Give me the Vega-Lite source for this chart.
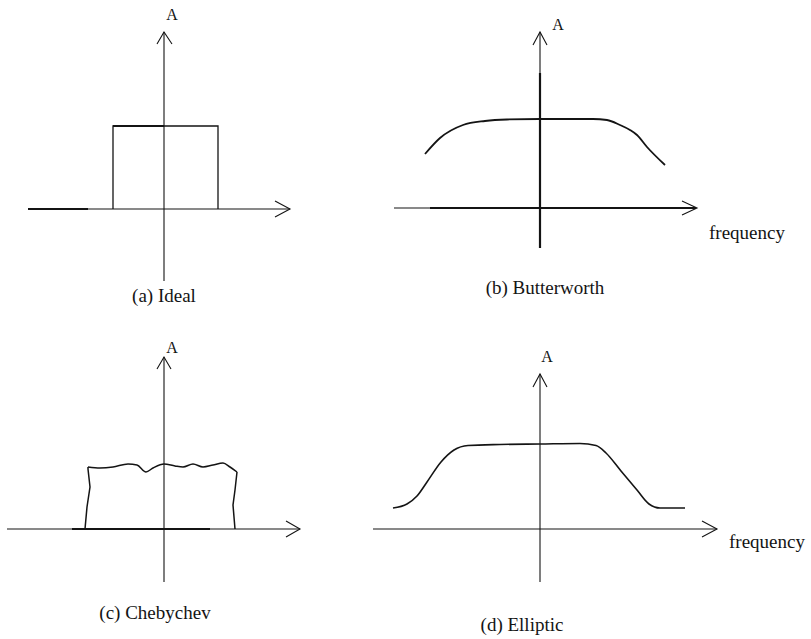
{
  "$schema": "https://vega.github.io/schema/vega-lite/v6.json",
  "padding": 0,
  "spacing": 0,
  "bounds": "flush",
  "columns": 2,
  "background": "white",
  "config": {
    "view": {"stroke": null},
    "line": {"color": "#141414", "strokeCap": "butt"},
    "text": {"font": "Liberation Serif", "color": "#141414"}
  },
  "datasets": {
    "paths": [
      {"panel": "a", "id": "a-h", "kind": "axis", "seq": 1, "f": -13.6, "a": 0},
      {"panel": "a", "id": "a-h", "kind": "axis", "seq": 2, "f": 12.6, "a": 0},
      {"panel": "a", "id": "a-ha", "kind": "axis", "seq": 1, "f": 11.1, "a": 0.8},
      {"panel": "a", "id": "a-ha", "kind": "axis", "seq": 2, "f": 12.6, "a": 0},
      {"panel": "a", "id": "a-ha", "kind": "axis", "seq": 3, "f": 11.1, "a": -0.8},
      {"panel": "a", "id": "a-v", "kind": "axis", "seq": 1, "f": 0, "a": -7.2},
      {"panel": "a", "id": "a-v", "kind": "axis", "seq": 2, "f": 0, "a": 17.7},
      {"panel": "a", "id": "a-va", "kind": "axis", "seq": 1, "f": -0.7, "a": 16.5},
      {"panel": "a", "id": "a-va", "kind": "axis", "seq": 2, "f": 0, "a": 17.7},
      {"panel": "a", "id": "a-va", "kind": "axis", "seq": 3, "f": 0.8, "a": 16.5},
      {"panel": "a", "id": "a-r", "kind": "response", "seq": 1, "f": -5.1, "a": 0},
      {"panel": "a", "id": "a-r", "kind": "response", "seq": 2, "f": -5.1, "a": 8.3},
      {"panel": "a", "id": "a-r", "kind": "response", "seq": 3, "f": 5.4, "a": 8.3},
      {"panel": "a", "id": "a-r", "kind": "response", "seq": 4, "f": 5.4, "a": 0},
      {"panel": "a", "id": "a-s", "kind": "heavy", "seq": 1, "f": -13.6, "a": 0},
      {"panel": "a", "id": "a-s", "kind": "heavy", "seq": 2, "f": -7.6, "a": 0},
      {"panel": "a", "id": "a-t", "kind": "heavy", "seq": 1, "f": -5.1, "a": 8.3},
      {"panel": "a", "id": "a-t", "kind": "heavy", "seq": 2, "f": 0, "a": 8.3},

      {"panel": "b", "id": "b-h", "kind": "axis", "seq": 1, "f": -14.6, "a": 0},
      {"panel": "b", "id": "b-h", "kind": "axis", "seq": 2, "f": -11.0, "a": 0},
      {"panel": "b", "id": "b-hh", "kind": "heavy", "seq": 1, "f": -11.0, "a": 0},
      {"panel": "b", "id": "b-hh", "kind": "heavy", "seq": 2, "f": 15.6, "a": 0},
      {"panel": "b", "id": "b-ha", "kind": "axis", "seq": 1, "f": 14.2, "a": 0.7},
      {"panel": "b", "id": "b-ha", "kind": "axis", "seq": 2, "f": 15.7, "a": 0},
      {"panel": "b", "id": "b-ha", "kind": "axis", "seq": 3, "f": 14.2, "a": -0.7},
      {"panel": "b", "id": "b-v", "kind": "axis", "seq": 1, "f": 0, "a": 13.5},
      {"panel": "b", "id": "b-v", "kind": "axis", "seq": 2, "f": 0, "a": 17.6},
      {"panel": "b", "id": "b-vh", "kind": "heavy", "seq": 1, "f": 0, "a": -4.0},
      {"panel": "b", "id": "b-vh", "kind": "heavy", "seq": 2, "f": 0, "a": 13.5},
      {"panel": "b", "id": "b-va", "kind": "axis", "seq": 1, "f": -0.7, "a": 16.3},
      {"panel": "b", "id": "b-va", "kind": "axis", "seq": 2, "f": 0, "a": 17.6},
      {"panel": "b", "id": "b-va", "kind": "axis", "seq": 3, "f": 0.7, "a": 16.3},
      {"panel": "b", "id": "b-c", "kind": "smooth", "seq": 1, "f": -11.5, "a": 5.4},
      {"panel": "b", "id": "b-c", "kind": "smooth", "seq": 2, "f": -10.0, "a": 7.0},
      {"panel": "b", "id": "b-c", "kind": "smooth", "seq": 3, "f": -7.7, "a": 8.3},
      {"panel": "b", "id": "b-c", "kind": "smooth", "seq": 4, "f": -5.5, "a": 8.7},
      {"panel": "b", "id": "b-c", "kind": "smooth", "seq": 5, "f": -3.3, "a": 8.85},
      {"panel": "b", "id": "b-c", "kind": "smooth", "seq": 6, "f": 0, "a": 8.9},
      {"panel": "b", "id": "b-c", "kind": "smooth", "seq": 7, "f": 5.3, "a": 8.9},
      {"panel": "b", "id": "b-c", "kind": "smooth", "seq": 8, "f": 6.7, "a": 8.8},
      {"panel": "b", "id": "b-c", "kind": "smooth", "seq": 9, "f": 8.0, "a": 8.3},
      {"panel": "b", "id": "b-c", "kind": "smooth", "seq": 10, "f": 9.0, "a": 7.8},
      {"panel": "b", "id": "b-c", "kind": "smooth", "seq": 11, "f": 9.7, "a": 7.3},
      {"panel": "b", "id": "b-c", "kind": "smooth", "seq": 12, "f": 10.7, "a": 6.1},
      {"panel": "b", "id": "b-c", "kind": "smooth", "seq": 13, "f": 12.5, "a": 4.3},

      {"panel": "c", "id": "c-h", "kind": "axis", "seq": 1, "f": -15.7, "a": 0},
      {"panel": "c", "id": "c-h", "kind": "axis", "seq": 2, "f": 13.6, "a": 0},
      {"panel": "c", "id": "c-ha", "kind": "axis", "seq": 1, "f": 12.2, "a": 0.8},
      {"panel": "c", "id": "c-ha", "kind": "axis", "seq": 2, "f": 13.6, "a": 0},
      {"panel": "c", "id": "c-ha", "kind": "axis", "seq": 3, "f": 12.2, "a": -0.8},
      {"panel": "c", "id": "c-v", "kind": "axis", "seq": 1, "f": 0, "a": -5.3},
      {"panel": "c", "id": "c-v", "kind": "axis", "seq": 2, "f": 0, "a": 17.2},
      {"panel": "c", "id": "c-va", "kind": "axis", "seq": 1, "f": -0.7, "a": 16.0},
      {"panel": "c", "id": "c-va", "kind": "axis", "seq": 2, "f": 0, "a": 17.2},
      {"panel": "c", "id": "c-va", "kind": "axis", "seq": 3, "f": 0.7, "a": 16.0},
      {"panel": "c", "id": "c-b", "kind": "heavy", "seq": 1, "f": -9.2, "a": 0},
      {"panel": "c", "id": "c-b", "kind": "heavy", "seq": 2, "f": 4.6, "a": 0},
      {"panel": "c", "id": "c-l", "kind": "response", "seq": 1, "f": -7.9, "a": 0},
      {"panel": "c", "id": "c-l", "kind": "response", "seq": 2, "f": -7.7, "a": 2.2},
      {"panel": "c", "id": "c-l", "kind": "response", "seq": 3, "f": -7.4, "a": 4.2},
      {"panel": "c", "id": "c-l", "kind": "response", "seq": 4, "f": -7.6, "a": 6.0},
      {"panel": "c", "id": "c-l", "kind": "response", "seq": 5, "f": -7.6, "a": 6.2},
      {"panel": "c", "id": "c-t", "kind": "smooth", "seq": 1, "f": -7.6, "a": 6.2},
      {"panel": "c", "id": "c-t", "kind": "smooth", "seq": 2, "f": -6.4, "a": 6.1},
      {"panel": "c", "id": "c-t", "kind": "smooth", "seq": 3, "f": -5.1, "a": 6.2},
      {"panel": "c", "id": "c-t", "kind": "smooth", "seq": 4, "f": -3.6, "a": 6.5},
      {"panel": "c", "id": "c-t", "kind": "smooth", "seq": 5, "f": -2.7, "a": 6.4},
      {"panel": "c", "id": "c-t", "kind": "smooth", "seq": 6, "f": -1.8, "a": 5.7},
      {"panel": "c", "id": "c-t", "kind": "smooth", "seq": 7, "f": -1.1, "a": 6.1},
      {"panel": "c", "id": "c-t", "kind": "smooth", "seq": 8, "f": 0, "a": 6.5},
      {"panel": "c", "id": "c-t", "kind": "smooth", "seq": 9, "f": 1.1, "a": 6.3},
      {"panel": "c", "id": "c-t", "kind": "smooth", "seq": 10, "f": 1.9, "a": 6.2},
      {"panel": "c", "id": "c-t", "kind": "smooth", "seq": 11, "f": 2.9, "a": 6.5},
      {"panel": "c", "id": "c-t", "kind": "smooth", "seq": 12, "f": 3.9, "a": 6.2},
      {"panel": "c", "id": "c-t", "kind": "smooth", "seq": 13, "f": 4.9, "a": 6.4},
      {"panel": "c", "id": "c-t", "kind": "smooth", "seq": 14, "f": 5.9, "a": 6.6},
      {"panel": "c", "id": "c-t", "kind": "smooth", "seq": 15, "f": 6.6, "a": 6.2},
      {"panel": "c", "id": "c-t", "kind": "smooth", "seq": 16, "f": 7.3, "a": 5.7},
      {"panel": "c", "id": "c-r", "kind": "response", "seq": 1, "f": 7.3, "a": 5.7},
      {"panel": "c", "id": "c-r", "kind": "response", "seq": 2, "f": 7.1, "a": 3.9},
      {"panel": "c", "id": "c-r", "kind": "response", "seq": 3, "f": 6.9, "a": 2.4},
      {"panel": "c", "id": "c-r", "kind": "response", "seq": 4, "f": 7.1, "a": 0},

      {"panel": "d", "id": "d-h", "kind": "axis", "seq": 1, "f": -16.7, "a": 0},
      {"panel": "d", "id": "d-h", "kind": "axis", "seq": 2, "f": 17.7, "a": 0},
      {"panel": "d", "id": "d-ha", "kind": "axis", "seq": 1, "f": 16.2, "a": 0.8},
      {"panel": "d", "id": "d-ha", "kind": "axis", "seq": 2, "f": 17.7, "a": 0},
      {"panel": "d", "id": "d-ha", "kind": "axis", "seq": 3, "f": 16.2, "a": -0.8},
      {"panel": "d", "id": "d-v", "kind": "axis", "seq": 1, "f": 0, "a": -5.3},
      {"panel": "d", "id": "d-v", "kind": "axis", "seq": 2, "f": 0, "a": 15.5},
      {"panel": "d", "id": "d-va", "kind": "axis", "seq": 1, "f": -0.7, "a": 14.2},
      {"panel": "d", "id": "d-va", "kind": "axis", "seq": 2, "f": 0, "a": 15.5},
      {"panel": "d", "id": "d-va", "kind": "axis", "seq": 3, "f": 0.7, "a": 14.2},
      {"panel": "d", "id": "d-c", "kind": "smooth", "seq": 1, "f": -14.7, "a": 2.1},
      {"panel": "d", "id": "d-c", "kind": "smooth", "seq": 2, "f": -13.3, "a": 2.5},
      {"panel": "d", "id": "d-c", "kind": "smooth", "seq": 3, "f": -12.3, "a": 3.3},
      {"panel": "d", "id": "d-c", "kind": "smooth", "seq": 4, "f": -11.3, "a": 4.7},
      {"panel": "d", "id": "d-c", "kind": "smooth", "seq": 5, "f": -9.9, "a": 6.7},
      {"panel": "d", "id": "d-c", "kind": "smooth", "seq": 6, "f": -8.6, "a": 7.9},
      {"panel": "d", "id": "d-c", "kind": "smooth", "seq": 7, "f": -7.2, "a": 8.35},
      {"panel": "d", "id": "d-c", "kind": "smooth", "seq": 8, "f": -4.0, "a": 8.45},
      {"panel": "d", "id": "d-c", "kind": "smooth", "seq": 9, "f": 0, "a": 8.5},
      {"panel": "d", "id": "d-c", "kind": "smooth", "seq": 10, "f": 4.0, "a": 8.55},
      {"panel": "d", "id": "d-c", "kind": "smooth", "seq": 11, "f": 5.6, "a": 8.35},
      {"panel": "d", "id": "d-c", "kind": "smooth", "seq": 12, "f": 6.6, "a": 7.6},
      {"panel": "d", "id": "d-c", "kind": "smooth", "seq": 13, "f": 8.1, "a": 5.8},
      {"panel": "d", "id": "d-c", "kind": "smooth", "seq": 14, "f": 9.7, "a": 3.9},
      {"panel": "d", "id": "d-c", "kind": "smooth", "seq": 15, "f": 10.9, "a": 2.5},
      {"panel": "d", "id": "d-c", "kind": "smooth", "seq": 16, "f": 12.0, "a": 2.1},
      {"panel": "d", "id": "d-c", "kind": "smooth", "seq": 17, "f": 14.5, "a": 2.1}
    ],
    "labels": [
      {"panel": "a", "role": "amp", "text": "A", "f": 0.8, "a": 19.4},
      {"panel": "a", "role": "caption", "text": "(a) Ideal", "f": 0, "a": -8.7},
      {"panel": "b", "role": "amp", "text": "A", "f": 1.8, "a": 18.3},
      {"panel": "b", "role": "freq", "text": "frequency", "f": 20.7, "a": -2.5},
      {"panel": "b", "role": "caption", "text": "(b) Butterworth", "f": 0.5, "a": -8.0},
      {"panel": "c", "role": "amp", "text": "A", "f": 0.8, "a": 18.1},
      {"panel": "c", "role": "caption", "text": "(c)  Chebychev", "f": -0.9, "a": -8.4},
      {"panel": "d", "role": "amp", "text": "A", "f": 0.7, "a": 17.2},
      {"panel": "d", "role": "freq", "text": "frequency", "f": 22.7, "a": -1.3},
      {"panel": "d", "role": "caption", "text": "(d) Elliptic", "f": -1.8, "a": -9.6}
    ]
  },
  "concat": [
    {
      "width": 405, "height": 320,
      "encoding": {
        "x": {"field": "f", "type": "quantitative", "axis": null, "scale": {"domain": [-16.4, 24.1], "nice": false, "zero": false}},
        "y": {"field": "a", "type": "quantitative", "axis": null, "scale": {"domain": [-11.1, 20.9], "nice": false, "zero": false}}
      },
      "layer": [
        {"data": {"name": "paths"}, "transform": [{"filter": "datum.panel == 'a' && datum.kind == 'axis'"}],
         "mark": {"type": "line", "strokeWidth": 1.1}, "encoding": {"detail": {"field": "id"}, "order": {"field": "seq"}}},
        {"data": {"name": "paths"}, "transform": [{"filter": "datum.panel == 'a' && datum.kind == 'response'"}],
         "mark": {"type": "line", "strokeWidth": 1.3}, "encoding": {"detail": {"field": "id"}, "order": {"field": "seq"}}},
        {"data": {"name": "paths"}, "transform": [{"filter": "datum.panel == 'a' && datum.kind == 'heavy'"}],
         "mark": {"type": "line", "strokeWidth": 2.2}, "encoding": {"detail": {"field": "id"}, "order": {"field": "seq"}}},
        {"data": {"name": "labels"}, "transform": [{"filter": "datum.panel == 'a' && datum.role == 'amp'"}],
         "mark": {"type": "text", "fontSize": 16, "align": "center", "baseline": "middle"}, "encoding": {"text": {"field": "text"}}},
        {"data": {"name": "labels"}, "transform": [{"filter": "datum.panel == 'a' && datum.role != 'amp'"}],
         "mark": {"type": "text", "fontSize": 19, "align": "center", "baseline": "middle"}, "encoding": {"text": {"field": "text"}}}
      ]
    },
    {
      "width": 406, "height": 320,
      "encoding": {
        "x": {"field": "f", "type": "quantitative", "axis": null, "scale": {"domain": [-13.5, 27.1], "nice": false, "zero": false}},
        "y": {"field": "a", "type": "quantitative", "axis": null, "scale": {"domain": [-11.2, 20.8], "nice": false, "zero": false}}
      },
      "layer": [
        {"data": {"name": "paths"}, "transform": [{"filter": "datum.panel == 'b' && datum.kind == 'axis'"}],
         "mark": {"type": "line", "strokeWidth": 1.1}, "encoding": {"detail": {"field": "id"}, "order": {"field": "seq"}}},
        {"data": {"name": "paths"}, "transform": [{"filter": "datum.panel == 'b' && datum.kind == 'heavy'"}],
         "mark": {"type": "line", "strokeWidth": 2.2}, "encoding": {"detail": {"field": "id"}, "order": {"field": "seq"}}},
        {"data": {"name": "paths"}, "transform": [{"filter": "datum.panel == 'b' && datum.kind == 'smooth'"}],
         "mark": {"type": "line", "strokeWidth": 1.8, "interpolate": "monotone"}, "encoding": {"detail": {"field": "id"}, "order": {"field": "seq"}}},
        {"data": {"name": "labels"}, "transform": [{"filter": "datum.panel == 'b' && datum.role == 'amp'"}],
         "mark": {"type": "text", "fontSize": 16, "align": "center", "baseline": "middle"}, "encoding": {"text": {"field": "text"}}},
        {"data": {"name": "labels"}, "transform": [{"filter": "datum.panel == 'b' && datum.role != 'amp'"}],
         "mark": {"type": "text", "fontSize": 19, "align": "center", "baseline": "middle"}, "encoding": {"text": {"field": "text"}}}
      ]
    },
    {
      "width": 405, "height": 319,
      "encoding": {
        "x": {"field": "f", "type": "quantitative", "axis": null, "scale": {"domain": [-16.4, 24.1], "nice": false, "zero": false}},
        "y": {"field": "a", "type": "quantitative", "axis": null, "scale": {"domain": [-11.0, 20.9], "nice": false, "zero": false}}
      },
      "layer": [
        {"data": {"name": "paths"}, "transform": [{"filter": "datum.panel == 'c' && datum.kind == 'axis'"}],
         "mark": {"type": "line", "strokeWidth": 1.1}, "encoding": {"detail": {"field": "id"}, "order": {"field": "seq"}}},
        {"data": {"name": "paths"}, "transform": [{"filter": "datum.panel == 'c' && datum.kind == 'heavy'"}],
         "mark": {"type": "line", "strokeWidth": 2.0}, "encoding": {"detail": {"field": "id"}, "order": {"field": "seq"}}},
        {"data": {"name": "paths"}, "transform": [{"filter": "datum.panel == 'c' && datum.kind == 'response'"}],
         "mark": {"type": "line", "strokeWidth": 1.5}, "encoding": {"detail": {"field": "id"}, "order": {"field": "seq"}}},
        {"data": {"name": "paths"}, "transform": [{"filter": "datum.panel == 'c' && datum.kind == 'smooth'"}],
         "mark": {"type": "line", "strokeWidth": 1.5, "interpolate": "monotone"}, "encoding": {"detail": {"field": "id"}, "order": {"field": "seq"}}},
        {"data": {"name": "labels"}, "transform": [{"filter": "datum.panel == 'c' && datum.role == 'amp'"}],
         "mark": {"type": "text", "fontSize": 16, "align": "center", "baseline": "middle"}, "encoding": {"text": {"field": "text"}}},
        {"data": {"name": "labels"}, "transform": [{"filter": "datum.panel == 'c' && datum.role != 'amp'"}],
         "mark": {"type": "text", "fontSize": 19, "align": "center", "baseline": "middle"}, "encoding": {"text": {"field": "text"}}}
      ]
    },
    {
      "width": 406, "height": 319,
      "encoding": {
        "x": {"field": "f", "type": "quantitative", "axis": null, "scale": {"domain": [-13.5, 27.1], "nice": false, "zero": false}},
        "y": {"field": "a", "type": "quantitative", "axis": null, "scale": {"domain": [-11.0, 20.9], "nice": false, "zero": false}}
      },
      "layer": [
        {"data": {"name": "paths"}, "transform": [{"filter": "datum.panel == 'd' && datum.kind == 'axis'"}],
         "mark": {"type": "line", "strokeWidth": 1.1}, "encoding": {"detail": {"field": "id"}, "order": {"field": "seq"}}},
        {"data": {"name": "paths"}, "transform": [{"filter": "datum.panel == 'd' && datum.kind == 'smooth'"}],
         "mark": {"type": "line", "strokeWidth": 1.6, "interpolate": "monotone"}, "encoding": {"detail": {"field": "id"}, "order": {"field": "seq"}}},
        {"data": {"name": "labels"}, "transform": [{"filter": "datum.panel == 'd' && datum.role == 'amp'"}],
         "mark": {"type": "text", "fontSize": 16, "align": "center", "baseline": "middle"}, "encoding": {"text": {"field": "text"}}},
        {"data": {"name": "labels"}, "transform": [{"filter": "datum.panel == 'd' && datum.role != 'amp'"}],
         "mark": {"type": "text", "fontSize": 19, "align": "center", "baseline": "middle"}, "encoding": {"text": {"field": "text"}}}
      ]
    }
  ]
}
